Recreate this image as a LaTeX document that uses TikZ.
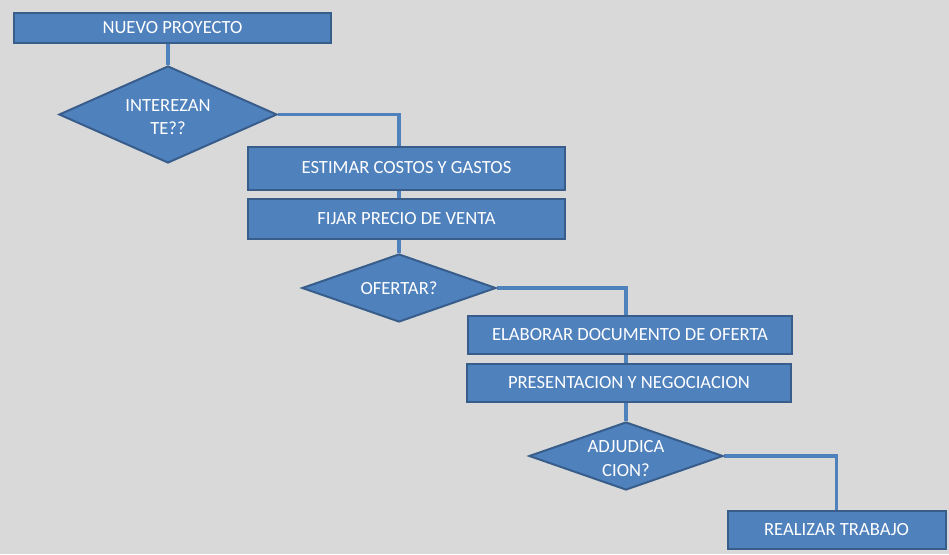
\documentclass[tikz,border=0pt]{standalone}
\usepackage{fontspec}
\setmainfont{Carlito}
\usetikzlibrary{shapes.geometric}

\definecolor{boxfill}{HTML}{4F81BD}
\definecolor{boxline}{HTML}{385D8A}
\definecolor{paper}{HTML}{D9D9D9}

\pgfdeclarelayer{paperlayer}
\pgfdeclarelayer{linklayer}
\pgfsetlayers{paperlayer,linklayer,main}

% centred text that does not widen the diamond
\newcommand{\twolines}[2]{\raisebox{-8pt}[0pt][0pt]{\makebox[0pt]{\begin{tabular}{@{}c@{}}#1\\#2\end{tabular}}}}
\newcommand{\oneline}[1]{\makebox[0pt]{#1}}

\begin{document}
\begin{tikzpicture}[
    x=1pt, y=-1pt,
    stepbox/.style = {draw=boxline, fill=boxfill, line width=2pt, text=white, inner sep=0pt},
    decision/.style = {diamond, draw=boxline, fill=boxfill, line width=2pt, text=white, inner sep=0pt},
    link/.style = {draw=boxfill, line width=3.5pt},
    every node/.style = {font=\fontsize{18.6}{23.5}\selectfont}
]
\begin{pgfonlayer}{paperlayer}
\fill[paper] (0,0) rectangle (949,554);
\end{pgfonlayer}
\useasboundingbox (0,0) rectangle (949,554);

\node (np) [stepbox, minimum width=317pt, minimum height=30pt] at (172.5,27.5) {NUEVO PROYECTO};
\node (int) [decision, minimum width=218pt, minimum height=97pt] at (168,114.5) {\twolines{INTEREZAN}{TE??}};
\node (est) [stepbox, minimum width=317pt, minimum height=43pt] at (406.5,168) {ESTIMAR COSTOS Y GASTOS};
\node (fij) [stepbox, minimum width=317pt, minimum height=40pt] at (406.5,219) {FIJAR PRECIO DE VENTA};
\node (ofe) [decision, minimum width=194pt, minimum height=68pt] at (399,288) {\oneline{OFERTAR?}};
\node (ela) [stepbox, minimum width=324pt, minimum height=38pt] at (630,335) {ELABORAR DOCUMENTO DE OFERTA};
\node (pre) [stepbox, minimum width=324pt, minimum height=38pt] at (629,383) {PRESENTACION Y NEGOCIACION};
\node (adj) [decision, minimum width=194pt, minimum height=68pt] at (626,456) {\twolines{ADJUDICA}{CION?}};
\node (rea) [stepbox, minimum width=218pt, minimum height=38pt] at (836.5,530) {REALIZAR TRABAJO};

\begin{pgfonlayer}{linklayer}
\path[link] (int.north |- np.south) -- (int.north);
\path[link] (int.east) -| (ofe.north |- est.north);
\path[link] (ofe.north |- est.south) -- (ofe.north |- fij.north);
\path[link] (ofe.north |- fij.south) -- (ofe.north);
\path[link] (ofe.east) -| (adj.north |- ela.north);
\path[link] (adj.north |- ela.south) -- (adj.north |- pre.north);
\path[link] (adj.north |- pre.south) -- (adj.north);
\path[link] (adj.east) -| (rea.north);
\end{pgfonlayer}
\end{tikzpicture}
\end{document}
